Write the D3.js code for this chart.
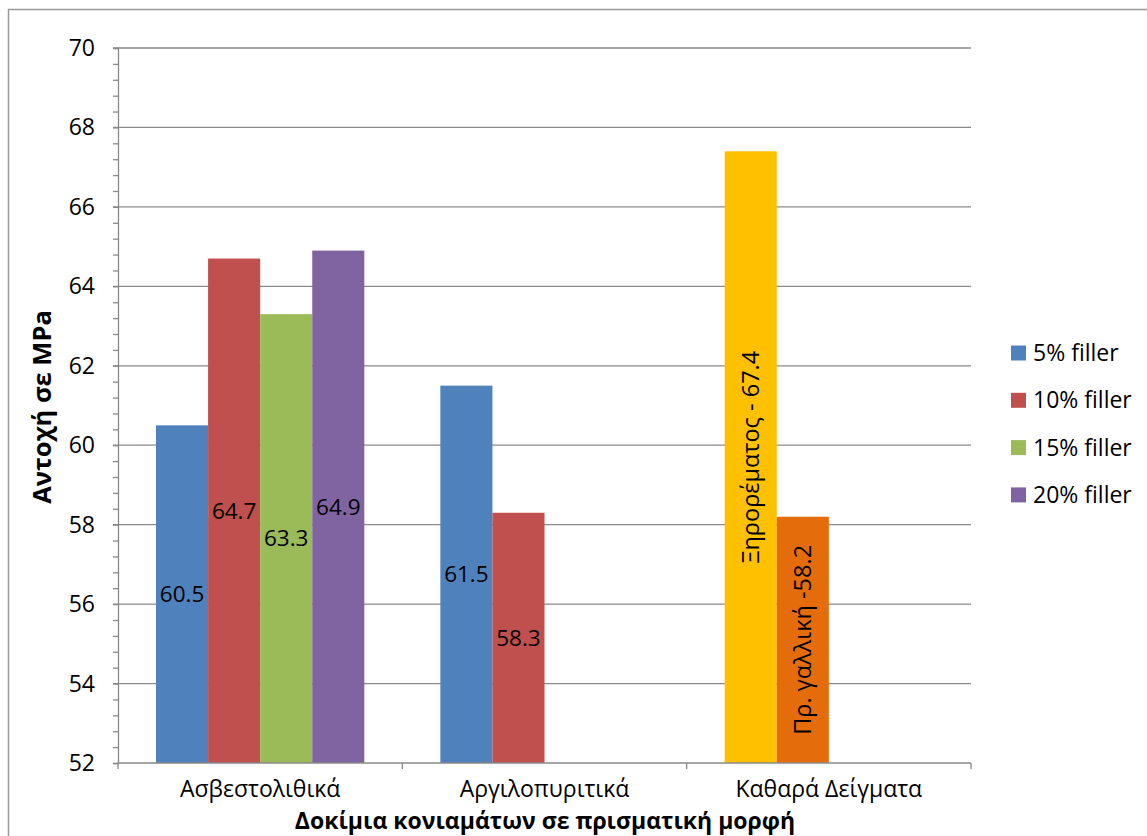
<!DOCTYPE html>
<html><head><meta charset="utf-8">
<script src="https://cdn.jsdelivr.net/npm/d3@7"></script>
<style>body{margin:0;background:#fff}svg{display:block}text{font-family:"Open Sans","Noto Sans",sans-serif;fill:#000}</style>
</head><body>
<script>
const categories = ["Ασβεστολιθικά", "Αργιλοπυριτικά", "Καθαρά Δείγματα"];
const seriesNames = ["5% filler", "10% filler", "15% filler", "20% filler"];
const filler5 = [60.5, 61.5, null];
const filler10 = [64.7, 58.3, null];
const filler15 = [63.3, null, null];
const filler20 = [64.9, null, null];
const refNames = ["Ξηρορέματος - 67.4", "Πρ. γαλλική -58.2"];
const refValues = [67.4, 58.2];
const yTicks = [52, 54, 56, 58, 60, 62, 64, 66, 68, 70];
const yTitle = "Αντοχή σε MPa";
const xTitle = "Δοκίμια κονιαμάτων σε πρισματική μορφή";

const colors = ["#4F81BD", "#C0504D", "#9BBB59", "#8064A2"];
const refColors = ["#FFC000", "#E46C0A"];
const grid = "#8a8a8a";

const W = 1147, H = 836;
const svg = d3.select("body").append("svg").attr("width", W).attr("height", H);
svg.append("rect").attr("x", 8.5).attr("y", 9.5).attr("width", W).attr("height", H)
  .attr("fill", "none").attr("stroke", "#9a9a9a").attr("stroke-width", 1.5);

const L = 118, R = 971, T = 48, B = 763;
const y = d3.scaleLinear().domain([52, 70]).range([B, T]);
const x = d3.scaleBand().domain(categories).range([L, R]).padding(0);
const slots = d3.range(4);
const xs = d3.scaleBand().domain(slots).range([0, x.bandwidth()]).paddingInner(0).paddingOuter(0.73);

// gridlines
svg.append("g").selectAll("line").data(yTicks.slice(1)).join("line")
  .attr("x1", L - 5).attr("x2", R).attr("y1", d => y(d)).attr("y2", d => y(d))
  .attr("stroke", grid).attr("stroke-width", 1.3);

// y axis
const yAxis = svg.append("g").attr("transform", `translate(${L},0)`)
  .call(d3.axisLeft(y).tickValues(d3.range(52, 70.001, 0.4)).tickSize(5).tickFormat(""));
yAxis.select(".domain").attr("stroke", grid).attr("stroke-width", 1.3);
yAxis.selectAll(".tick line").attr("stroke", grid).attr("stroke-width", 1.3);
svg.append("g").selectAll("text").data(yTicks).join("text")
  .attr("x", 95).attr("y", d => y(d)).attr("dy", "0.35em").attr("text-anchor", "end")
  .attr("font-size", 23).text(d => d);

// bars
const seriesVals = [filler5, filler10, filler15, filler20];
const bars = [];
categories.forEach((c, ci) => {
  seriesVals.forEach((vals, si) => {
    if (vals[ci] != null) bars.push({c, slot: si, v: vals[ci], color: colors[si], label: String(vals[ci]), rot: false});
  });
});
refValues.forEach((v, i) => bars.push({c: categories[2], slot: i, v, color: refColors[i], label: refNames[i], rot: true}));

const bg = svg.append("g");
bg.selectAll("rect").data(bars).join("rect")
  .attr("x", d => x(d.c) + xs(d.slot)).attr("width", xs.bandwidth())
  .attr("y", d => y(d.v)).attr("height", d => y(52) - y(d.v)).attr("fill", d => d.color);

bg.selectAll("text").data(bars).join("text")
  .attr("transform", d => {
    const cx = x(d.c) + xs(d.slot) + xs.bandwidth() / 2;
    const cy = (y(d.v) + y(52)) / 2;
    return d.rot ? `translate(${cx},${cy}) rotate(-90)` : `translate(${cx},${cy})`;
  })
  .attr("text-anchor", "middle").attr("dy", "0.35em").attr("font-size", d => d.rot ? 23.5 : 22.5)
  .text(d => d.label);

// x axis
const xAxis = svg.append("g").attr("transform", `translate(0,${B})`);
xAxis.append("line").attr("x1", L).attr("x2", R).attr("stroke", grid).attr("stroke-width", 1.3);
xAxis.selectAll("line.t").data([L, ...categories.map(c => x(c) + x.bandwidth())]).join("line")
  .attr("class", "t").attr("x1", d => d).attr("x2", d => d).attr("y1", 0).attr("y2", 6)
  .attr("stroke", grid).attr("stroke-width", 1.3);
xAxis.selectAll("text").data(categories).join("text")
  .attr("x", d => x(d) + x.bandwidth() / 2).attr("y", 34).attr("text-anchor", "middle")
  .attr("font-size", 23).text(d => d);

// titles
svg.append("text").attr("x", 545).attr("y", 829).attr("text-anchor", "middle")
  .attr("font-size", 23).attr("font-weight", "bold").text(xTitle);
svg.append("text").attr("transform", `translate(51,407) rotate(-90)`).attr("text-anchor", "middle")
  .attr("font-size", 25.5).attr("font-weight", "bold").text(yTitle);

// legend
const lg = svg.append("g").selectAll("g").data(seriesNames).join("g")
  .attr("transform", (d, i) => `translate(1011,${353 + i * 47.3})`);
lg.append("rect").attr("x", 0).attr("y", -7.5).attr("width", 15).attr("height", 15).attr("fill", (d, i) => colors[i]);
lg.append("text").attr("x", 22).attr("dy", "0.35em").attr("font-size", 23).text(d => d);
</script>
</body></html>
